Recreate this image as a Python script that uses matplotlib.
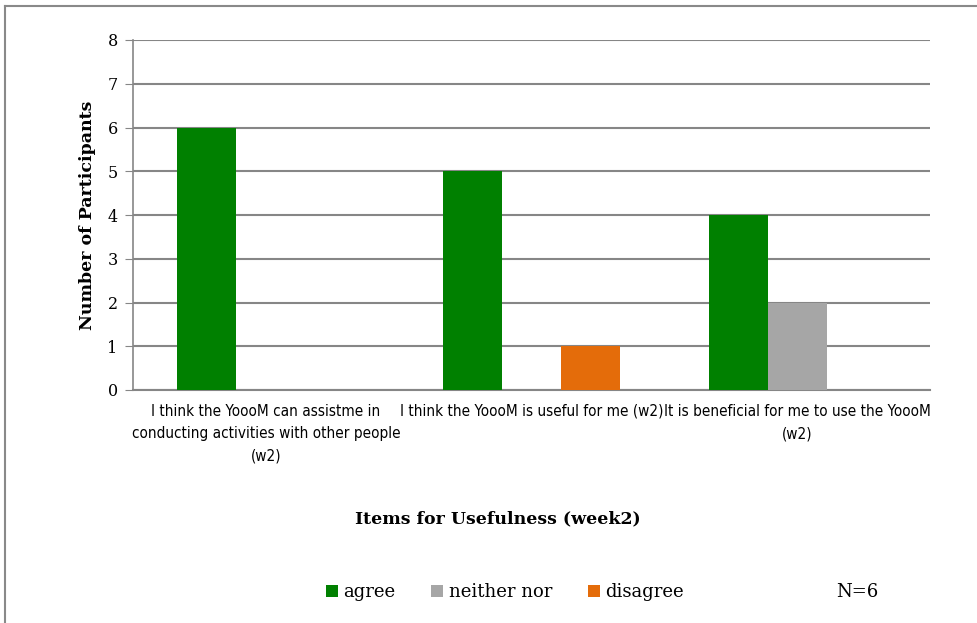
import matplotlib.pyplot as plt
import numpy as np
from matplotlib.patches import Patch

categories = [
    "I think the YoooM can assistme in\nconducting activities with other people\n(w2)",
    "I think the YoooM is useful for me (w2)",
    "It is beneficial for me to use the YoooM\n(w2)",
]
series_names = ["agree", "neither nor", "disagree"]
agree = [6, 5, 4]
neither = [0, 0, 2]
disagree = [0, 1, 0]
colors = ["#008000", "#A6A6A6", "#E46C0A"]

serif = ["DejaVu Serif"]

fig = plt.figure(figsize=(9.77, 6.23), dpi=100)
ax = fig.add_axes([133 / 977, 1 - 390 / 623, (930 - 133) / 977, (390 - 40) / 623])

x = np.arange(len(categories))
w = 0.222
for i, (vals, c) in enumerate(zip([agree, neither, disagree], colors)):
    ax.bar(x + (i - 1) * w, vals, width=w, color=c, zorder=3)

ax.set_xlim(-0.5, 2.5)
ax.set_ylim(0, 8)
ax.set_yticks(range(9))
ax.grid(axis="y", color="#868686", linewidth=1.5, zorder=0)
for s in ["top", "right"]:
    ax.spines[s].set_visible(False)
ax.spines["left"].set_color("#868686")
ax.spines["bottom"].set_color("#868686")
ax.spines["left"].set_linewidth(1.2)
ax.spines["bottom"].set_linewidth(1.5)
ax.tick_params(axis="y", length=6, color="#868686", labelsize=11.5, pad=5)
ax.tick_params(axis="x", length=0, pad=10)
for t in ax.get_yticklabels():
    t.set_family(serif)
ax.set_xticks(x)
ax.set_xticklabels(categories, family="DejaVu Sans", fontstretch="condensed",
                   fontsize=11, linespacing=1.6, va="top")

fig.text(88 / 977, 1 - 215 / 623, "Number of Participants", rotation=90, ha="center",
         va="center", family=serif, fontweight="bold", fontsize=12.5)
fig.text(498 / 977, 1 - 519 / 623, "Items for Usefulness (week2)", ha="center",
         va="center", family=serif, fontweight="bold", fontsize=12.5)

handles = [Patch(facecolor=c, edgecolor="none") for c in colors]
leg = fig.legend(handles, series_names, loc="center", bbox_to_anchor=(505 / 977, 1 - 592 / 623),
                 ncol=3, frameon=False, prop={"family": serif, "size": 13},
                 handlelength=0.65, handleheight=0.65, handletextpad=0.3, columnspacing=2.0)
fig.text(857 / 977, 1 - 592 / 623, "N=6", ha="center", va="center", family=serif, fontsize=13)

# outer chart frame
fig.add_artist(plt.Line2D([5 / 977, 5 / 977], [0, 1 - 6 / 623], color="#898989", linewidth=1.5))
fig.add_artist(plt.Line2D([5 / 977, 1], [1 - 6 / 623, 1 - 6 / 623], color="#898989", linewidth=1.5))

fig.savefig("out.png", dpi=100)
